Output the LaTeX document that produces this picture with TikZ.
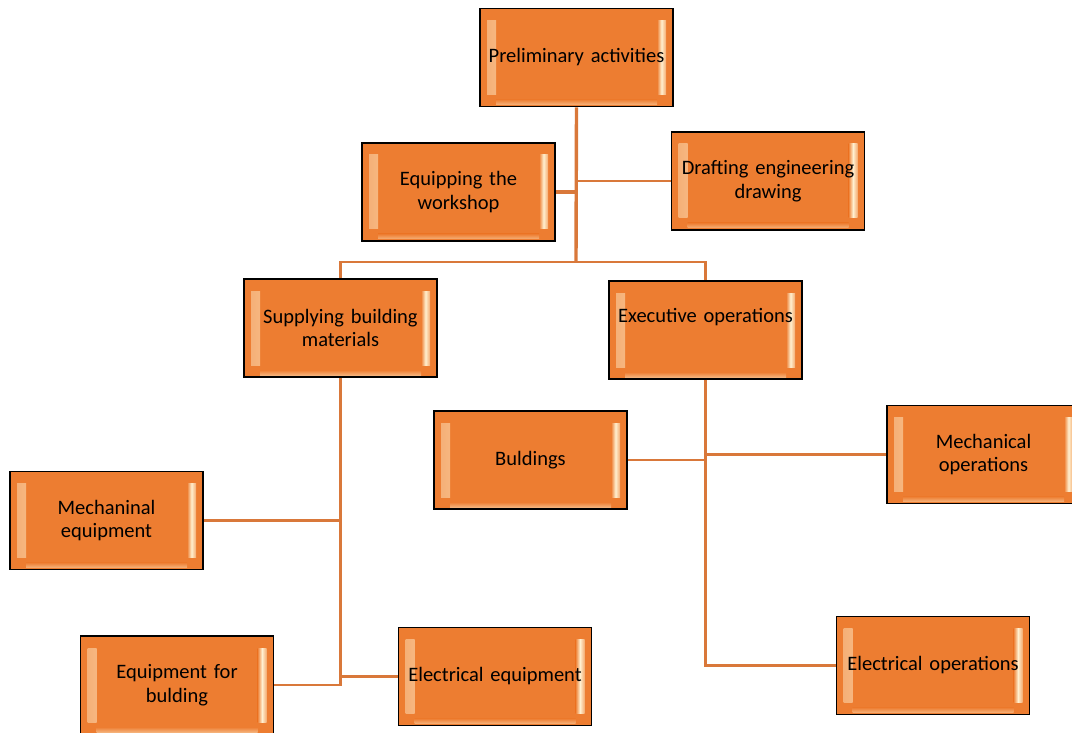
\documentclass[tikz,border=0pt]{standalone}
\usepackage{fontspec}
\setmainfont{Carlito}
\definecolor{boxfill}{HTML}{ED7D31}
\definecolor{shine}{HTML}{FFF0D0}
\definecolor{linkc}{HTML}{D9783A}
\begin{document}
\begin{tikzpicture}[x=1pt,y=-1pt,
  box/.style={draw=black, line width=1.8pt, fill=boxfill, minimum width=193pt, minimum height=98pt,
    text width=190pt, align=center, inner sep=0pt, font=\fontsize{20.5}{23.5}\selectfont,
    path picture={
      \shade[left color=boxfill!60!shine, right color=boxfill, middle color=shine]
        ([xshift=7pt,yshift=12pt]path picture bounding box.south west) rectangle
        ([xshift=16pt,yshift=-12pt]path picture bounding box.north west);
      \shade[left color=boxfill, right color=boxfill!60!shine, middle color=shine]
        ([xshift=-16pt,yshift=12pt]path picture bounding box.south east) rectangle
        ([xshift=-7pt,yshift=-12pt]path picture bounding box.north east);
      \shade[top color=boxfill, bottom color=shine!45!boxfill]
        ([xshift=16pt,yshift=2pt]path picture bounding box.south west) rectangle
        ([xshift=-16pt,yshift=7pt]path picture bounding box.south east);
    }},
  link/.style={draw=linkc, line width=2.6pt},
  trunk/.style={draw=linkc, line width=3.4pt}]
\useasboundingbox (0,0) rectangle (1072,733);
\node[box] (pre) at (576.5,57.5) {Preliminary activities};
\node[box] (equip) at (458.5,192) {Equipping the\\workshop};
\node[box] (draft) at (768,181) {Drafting engineering\\drawing};
\node[box] (supply) at (340.5,328) {Supplying building\\materials};
\node[box] (exec) at (705.5,330) {\raisebox{13pt}[\height][\depth]{Executive operations}};
\node[box] (buld) at (530.5,460) {Buldings};
\node[box] (mechop) at (983.5,454.5) {Mechanical\\operations};
\node[box] (mechE) at (106.5,520.5) {Mechaninal\\equipment};
\node[box] (equipB) at (177,685) {Equipment for\\bulding};
\node[box] (elecE) at (495,676.5) {Electrical equipment};
\node[box] (elecO) at (933,665.5) {Electrical operations};
\coordinate (j1) at (576,262);
\draw[trunk] (pre.south) -- (j1);
\draw[trunk] (equip.east) -- (equip.east -| pre.south);
\draw[link] (draft.west) -- (draft.west -| pre.south);
\draw[link] (supply.north) |- (j1) -| (exec.north);
\draw[link] (supply.south) |- (equipB.east);
\draw[link] (mechE.east) -- (mechE.east -| supply.south);
\draw[link] (elecE.west) -- (elecE.west -| supply.south);
\draw[trunk] (exec.south) -- ([yshift=2pt]buld.east -| exec.south);
\draw[link] (exec.south) |- (elecO.west);
\draw[link] (buld.east) -- (buld.east -| exec.south);
\draw[link] (mechop.west) -- (mechop.west -| exec.south);
\end{tikzpicture}
\end{document}
